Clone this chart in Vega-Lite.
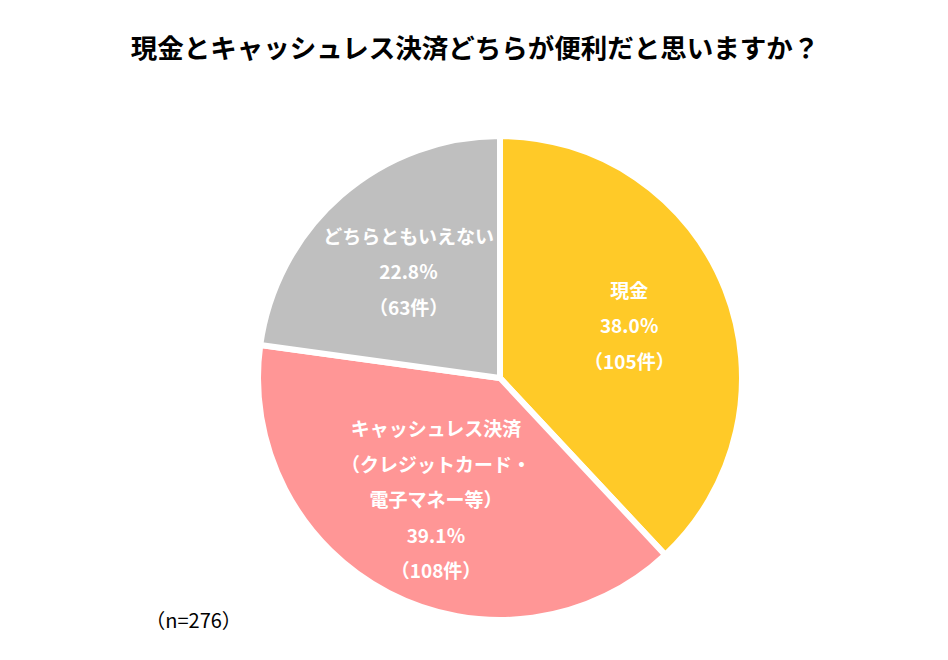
{
  "$schema": "https://vega.github.io/schema/vega-lite/v6.json",
  "autosize": "none",
  "width": 896,
  "height": 564,
  "padding": {"left": 52, "top": 96, "right": 0, "bottom": 0},
  "background": "white",
  "config": {"view": {"stroke": null}, "font": "Noto Sans CJK JP"},
  "title": {
    "text": "現金とキャッシュレス決済どちらが便利だと思いますか？",
    "font": "Noto Sans CJK JP",
    "fontSize": 26.5,
    "fontWeight": "bold",
    "color": "#000000",
    "anchor": "middle",
    "dx": -25,
    "offset": 33
  },
  "datasets": {
    "pie": [
      {"order": 1, "category": "現金", "count": 105, "line1": "", "line2": "現金", "line3": "38.0％", "line4": "（105件）", "line5": ""},
      {"order": 2, "category": "キャッシュレス決済", "count": 108, "line1": "キャッシュレス決済", "line2": "（クレジットカード・", "line3": "電子マネー等）", "line4": "39.1％", "line5": "（108件）"},
      {"order": 3, "category": "どちらともいえない", "count": 63, "line1": "", "line2": "どちらともいえない", "line3": "22.8％", "line4": "（63件）", "line5": ""}
    ],
    "note": [{"text": "（n=276）"}]
  },
  "layer": [
    {
      "data": {"name": "pie"},
      "mark": {"type": "arc", "outerRadius": 242, "stroke": "white", "strokeWidth": 6},
      "encoding": {
        "theta": {"field": "count", "type": "quantitative", "stack": true},
        "order": {"field": "order", "type": "quantitative"},
        "color": {
          "field": "category",
          "type": "nominal",
          "scale": {"domain": ["現金", "キャッシュレス決済", "どちらともいえない"], "range": ["#FFCA28", "#FF9696", "#BFBFBF"]},
          "legend": null
        }
      }
    },
    {
      "data": {"name": "pie"},
      "mark": {"type": "text", "radius": 139, "dy": -71, "fill": "white", "fontSize": 19, "fontWeight": "bold", "align": "center", "baseline": "middle"},
      "encoding": {
        "theta": {"field": "count", "type": "quantitative", "stack": true},
        "order": {"field": "order", "type": "quantitative"},
        "text": {"field": "line1", "type": "nominal"}
      }
    },
    {
      "data": {"name": "pie"},
      "mark": {"type": "text", "radius": 139, "dy": -35.5, "fill": "white", "fontSize": 19, "fontWeight": "bold", "align": "center", "baseline": "middle"},
      "encoding": {
        "theta": {"field": "count", "type": "quantitative", "stack": true},
        "order": {"field": "order", "type": "quantitative"},
        "text": {"field": "line2", "type": "nominal"}
      }
    },
    {
      "data": {"name": "pie"},
      "mark": {"type": "text", "radius": 139, "dy": 0, "fill": "white", "fontSize": 19, "fontWeight": "bold", "align": "center", "baseline": "middle"},
      "encoding": {
        "theta": {"field": "count", "type": "quantitative", "stack": true},
        "order": {"field": "order", "type": "quantitative"},
        "text": {"field": "line3", "type": "nominal"}
      }
    },
    {
      "data": {"name": "pie"},
      "mark": {"type": "text", "radius": 139, "dy": 35.5, "fill": "white", "fontSize": 19, "fontWeight": "bold", "align": "center", "baseline": "middle"},
      "encoding": {
        "theta": {"field": "count", "type": "quantitative", "stack": true},
        "order": {"field": "order", "type": "quantitative"},
        "text": {"field": "line4", "type": "nominal"}
      }
    },
    {
      "data": {"name": "pie"},
      "mark": {"type": "text", "radius": 139, "dy": 71, "fill": "white", "fontSize": 19, "fontWeight": "bold", "align": "center", "baseline": "middle"},
      "encoding": {
        "theta": {"field": "count", "type": "quantitative", "stack": true},
        "order": {"field": "order", "type": "quantitative"},
        "text": {"field": "line5", "type": "nominal"}
      }
    },
    {
      "data": {"name": "note"},
      "mark": {"type": "text", "fontSize": 20, "color": "#000000", "align": "center", "baseline": "middle"},
      "encoding": {
        "x": {"datum": 0.158, "type": "quantitative", "scale": {"domain": [0, 1]}, "axis": null},
        "y": {"datum": 0.067, "type": "quantitative", "scale": {"domain": [0, 1]}, "axis": null},
        "text": {"field": "text", "type": "nominal"}
      }
    }
  ]
}
